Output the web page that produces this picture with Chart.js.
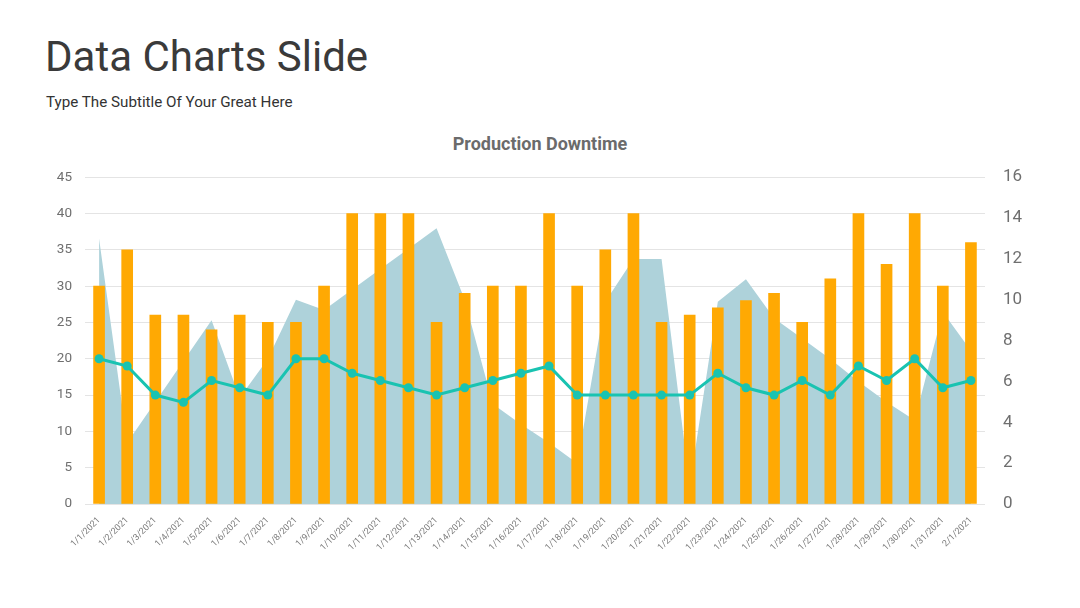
<!DOCTYPE html>
<html>
<head>
<meta charset="utf-8">
<script src="https://cdn.jsdelivr.net/npm/chart.js@4.4.1/dist/chart.umd.min.js"></script>
<style>
  html, body { margin: 0; padding: 0; background: #ffffff; }
  body { width: 1080px; height: 608px; position: relative; overflow: hidden; font-family: Roboto, "Noto Sans", sans-serif; }
  .t { position: absolute; line-height: 1; white-space: nowrap; }
  #title { left: 45px; top: 36px; font-size: 42px; color: #3a3a3a; }
  #subtitle { left: 46px; top: 95px; font-size: 15.2px; color: #333333; }
  #ctitle { left: 0; width: 1080px; text-align: center; top: 135px; font-size: 18px; font-weight: bold; color: #6b6b6b; }
  #wrap { position: absolute; left: 0; top: 149px; width: 1080px; height: 412px; }
</style>
</head>
<body>
<div class="t" id="title">Data Charts Slide</div>
<div class="t" id="subtitle">Type The Subtitle Of Your Great Here</div>
<div class="t" id="ctitle">Production Downtime</div>
<div id="wrap"><canvas id="c"></canvas></div>
<script>
const categories = ["1/1/2021","1/2/2021","1/3/2021","1/4/2021","1/5/2021","1/6/2021","1/7/2021","1/8/2021","1/9/2021","1/10/2021","1/11/2021","1/12/2021","1/13/2021","1/14/2021","1/15/2021","1/16/2021","1/17/2021","1/18/2021","1/19/2021","1/20/2021","1/21/2021","1/22/2021","1/23/2021","1/24/2021","1/25/2021","1/26/2021","1/27/2021","1/28/2021","1/29/2021","1/30/2021","1/31/2021","2/1/2021"];
const barValues = [30,35,26,26,24,26,25,25,30,40,40,40,25,29,30,30,40,30,35,40,25,26,27,28,29,25,31,40,33,40,30,36];
const lineValues = [20,19,15,14,17,16,15,20,20,18,17,16,15,16,17,18,19,15,15,15,15,15,18,16,15,17,15,19,17,20,16,17];
const areaValues = [13,3,5,7,9,5.2,7.1,10,9.5,10.5,11.5,12.5,13.5,10,4.9,3.9,3,2,9.9,12,12,0.9,9.9,11,9.1,8.1,7.1,6,5,4.1,9.4,7.5];
const leftTicks = {min: 0, max: 45, step: 5};
const rightTicks = {min: 0, max: 16, step: 2};

const ctx = document.getElementById('c');
new Chart(ctx, {
  type: 'bar',
  data: {
    labels: categories,
    datasets: [
      {
        type: 'line', label: 'Line', data: lineValues, yAxisID: 'y', order: 0,
        borderColor: '#19c3b1', backgroundColor: '#19c3b1', borderWidth: 3,
        pointRadius: 4.5, pointBackgroundColor: '#19c3b1', pointBorderWidth: 0,
        tension: 0, fill: false
      },
      {
        type: 'bar', label: 'Bars', data: barValues, yAxisID: 'y', order: 1,
        backgroundColor: '#ffa903', barThickness: 11, borderWidth: 0
      },
      {
        type: 'line', label: 'Area', data: areaValues, yAxisID: 'y1', order: 2,
        borderWidth: 0, borderColor: 'rgba(0,0,0,0)', backgroundColor: '#aed2da',
        pointRadius: 0, tension: 0, fill: 'origin'
      }
    ]
  },
  options: {
    responsive: true, maintainAspectRatio: false, animation: false,
    layout: { padding: { top: 28, left: 0, right: 0, bottom: 0 } },
    plugins: { legend: { display: false }, tooltip: { enabled: false }, title: { display: false } },
    scales: {
      x: {
        offset: true,
        grid: { display: false },
        border: { display: false },
        ticks: { autoSkip: false, minRotation: 45, maxRotation: 45, padding: 3,
                 color: '#7a7a7a', font: { family: 'Roboto', size: 9 } },
        afterFit: (s) => { s.height = 57; }
      },
      y: {
        position: 'left', min: leftTicks.min, max: leftTicks.max,
        grid: { color: '#e4e4e4', lineWidth: 1, drawTicks: false },
        border: { display: false },
        ticks: { stepSize: leftTicks.step, padding: 13, color: '#6f6f6f', font: { family: 'Roboto', size: 13.5 } },
        afterFit: (s) => { s.width = 85; }
      },
      y1: {
        position: 'right', min: rightTicks.min, max: rightTicks.max,
        grid: { display: false, drawTicks: false },
        border: { display: false },
        ticks: { stepSize: rightTicks.step, padding: 18, color: '#6f6f6f', font: { family: 'Roboto', size: 17 } },
        afterFit: (s) => { s.width = 95; }
      }
    }
  }
});
</script>
</body>
</html>
